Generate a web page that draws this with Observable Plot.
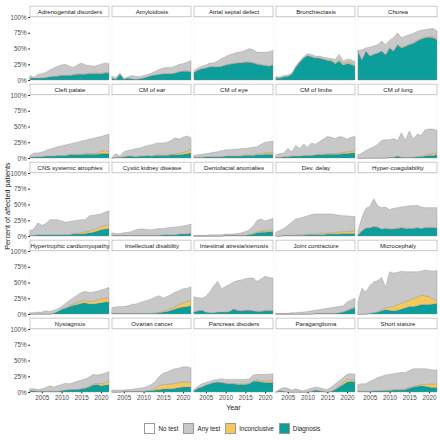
<!DOCTYPE html>
<html>
<head>
<meta charset="utf-8">
<script src="https://cdn.jsdelivr.net/npm/d3@7"></script>
<script src="https://cdn.jsdelivr.net/npm/@observablehq/plot@0.6"></script>
<style>
  body { margin: 0; background: #fff; font-family: "Liberation Sans", Arial, sans-serif; }
  #legend { display: flex; justify-content: center; align-items: center; padding-left: 30px; margin-top: 9px; font-size: 6.3px; color: #1a1a1a; }
  #legend .item { display: flex; align-items: center; margin-right: 5px; }
  #legend .sw { width: 11px; height: 11px; border: 0.6px solid #9a9a9a; box-sizing: border-box; margin-right: 3px; }
</style>
</head>
<body>
<div id="chart"></div>
<div id="legend"></div>
<script>
const years = [2002,2003,2004,2005,2006,2007,2008,2009,2010,2011,2012,2013,2014,2015,2016,2017,2018,2019,2020,2021,2022];

const panels = [
  "Adrenogenital disorders","Amyloidosis","Atrial septal defect","Bronchiectasis","Chorea",
  "Cleft palate","CM of ear","CM of eye","CM of limbs","CM of lung",
  "CNS systemic atrophies","Cystic kidney disease","Dentofacial anomalies","Dev. delay","Hyper-coagulability",
  "Hypertrophic cardiomyopathy","Intellectual disability","Intestinal atresia/stenosis","Joint contracture","Microcephaly",
  "Nystagmus","Ovarian cancer","Pancreas disoders","Paraganglioma","Short stature"
];

const layers = ["No test","Any test","Inconclusive","Diagnosis"];
const layerColors = ["#ffffff","#c8c8c8","#f5c85c","#0b9e9b"];

// percent of patients with any test (top of the grey area)
const tested = [
  [7,4,9,10,12,16,19,22,24,25,22,20,24,27,24,23,22,23,25,27,26],
  [6,4,11,2,5,7,6,5,7,9,11,14,17,19,20,20,22,25,26,28,31],
  [15,19,22,24,27,27,30,34,37,40,42,44,45,47,50,48,44,44,44,45,47],
  [5,5,7,8,11,22,30,37,42,40,38,38,36,35,34,33,41,30,33,32,29],
  [47,48,51,52,54,56,62,56,63,67,75,67,70,72,74,77,79,80,81,82,78],
  [4,8,8,9,12,14,16,18,19,21,22,24,25,27,28,30,31,33,34,36,38],
  [1,7,3,10,12,13,15,16,18,20,21,23,24,24,25,28,32,30,33,35,32],
  [4,5,6,7,8,9,10,12,13,13,14,14,15,15,16,17,18,22,25,26,27],
  [5,7,8,15,10,20,15,22,17,24,22,26,30,34,33,31,34,33,30,33,34],
  [5,8,12,15,18,22,28,29,29,31,28,40,28,43,30,38,36,45,46,46,44],
  [9,11,21,17,20,26,26,26,24,22,23,24,25,26,26,32,33,34,35,38,40],
  [5,4,4,5,6,7,10,11,11,10,10,11,12,12,13,14,14,15,16,17,19],
  [1,1,1,1,2,2,2,2,3,3,3,4,5,7,10,16,25,27,24,26,28],
  [6,9,12,17,22,27,28,30,32,34,35,35,35,35,35,34,33,32,32,31,31],
  [8,30,44,47,59,48,45,46,42,44,45,46,47,48,48,49,46,45,45,45,45],
  [2,2,3,3,5,4,6,8,12,17,22,26,30,34,36,34,35,36,38,40,42],
  [10,11,12,12,13,15,16,18,20,22,24,27,29,25,28,31,35,37,40,41,43],
  [27,26,25,28,35,45,52,40,44,47,51,53,54,56,57,57,52,56,60,58,57],
  [1,1,1,1,2,2,3,3,4,5,6,7,8,9,10,11,12,13,19,22,25],
  [20,41,35,45,51,53,58,42,67,65,66,68,67,67,67,67,68,70,69,68,69],
  [5,5,4,5,7,10,8,10,12,14,13,15,17,19,21,24,28,27,28,30,32],
  [3,3,3,3,4,4,5,6,7,9,12,17,25,30,32,35,37,38,40,40,38],
  [4,9,13,15,17,19,20,21,20,20,20,20,20,20,21,27,28,28,28,28,29],
  [0,5,7,6,3,5,3,2,4,6,8,7,5,4,8,13,18,23,28,29,28],
  [12,13,13,17,20,23,25,27,28,29,30,31,31,34,37,37,37,37,36,35,35]
];

// percent of patients with a diagnosis
const diagnosis = [
  [3,3,3,3,4,5,6,6,7,7,7,8,9,9,9,10,10,10,10,11,11],
  [3,1,9,1,3,2,1,2,3,5,7,8,9,10,10,10,11,13,14,14,13],
  [12,16,18,19,21,21,21,22,24,25,26,27,27,28,28,27,25,24,23,22,24],
  [3,3,5,6,9,20,28,35,39,37,35,35,33,31,30,26,30,24,26,25,22],
  [45,32,46,38,41,43,46,40,51,46,56,51,53,56,58,62,65,67,68,67,64],
  [1,2,2,2,3,3,3,4,4,4,5,5,5,5,6,6,6,6,7,7,7],
  [0,1,1,2,3,3,2,3,3,4,3,4,4,4,4,5,5,5,6,7,8],
  [1,1,1,2,2,2,2,2,3,3,3,3,3,4,4,4,5,5,6,6,6],
  [1,1,2,2,3,3,3,4,4,4,5,5,5,6,6,6,6,7,7,8,8],
  [0,0,0,0,0,0,0,0,1,1,3,1,1,1,1,2,2,3,4,4,5],
  [1,1,2,2,2,2,2,2,2,2,2,3,3,3,4,5,6,8,10,11,12],
  [1,1,1,1,1,1,1,1,1,1,1,1,1,2,2,2,2,3,3,3,4],
  [0,0,0,0,0,0,0,0,1,1,1,1,1,1,2,3,5,6,6,7,7],
  [0,0,1,1,1,1,1,1,2,2,2,2,2,3,3,3,3,4,4,4,4],
  [2,8,13,13,15,14,11,12,11,11,12,13,12,12,12,13,12,13,13,13,13],
  [0,0,0,0,0,0,1,4,7,9,12,14,15,17,18,16,16,17,18,19,19],
  [1,1,1,1,1,1,1,1,1,1,1,1,2,3,4,6,8,10,11,12,13],
  [3,5,6,3,2,2,3,3,3,4,8,6,5,6,6,5,4,4,5,5,5],
  [0,0,0,0,0,0,0,0,0,0,1,1,1,1,1,1,2,3,5,8,10],
  [0,0,0,1,2,3,5,7,6,5,6,8,10,12,12,13,15,15,15,16,17],
  [2,2,1,1,1,1,1,1,2,3,4,4,4,5,6,8,11,12,10,11,12],
  [0,0,0,1,1,1,1,1,1,2,2,3,4,5,5,5,6,7,8,8,8],
  [2,6,8,11,13,15,16,15,14,13,13,12,12,12,13,17,17,16,15,15,15],
  [0,2,1,0,0,0,0,0,0,1,3,2,1,0,1,4,8,12,16,17,16],
  [1,1,1,1,2,2,2,2,2,3,3,3,4,6,8,9,10,9,8,7,7]
];

// percent of patients with an inconclusive result
const inconclusive = [
  [0,0,0,0,0,0,0,0.5,0.5,0.5,0.5,1,1,1,1,1,1,1,1,1,1],
  [0,0,0,0,0,0,0,0,0,0,0,0,0,0,0,0,0,0,0.5,0.5,0.5],
  [0,0,0,0,0,0,0,0,0,0.5,0.5,0.5,0.5,0.5,0.5,0.5,0.5,0.5,0.5,0.5,0.5],
  [0,0,0,0,0,0,0,0,0,0,0,0,0,1,1,1,2,2,2,2,1],
  [0,0,0,0,0,0,0,0,0,0,0,1,1,1,1,1,1,1,1,2,2],
  [0,0,0,0,0,0,0,0,0,0,0.5,0.5,1,1,1,1,1,2,4,5,3],
  [0,0,0,0,0,0,0,0,0,0,0,0.5,1,1,1,1,2,2,3,4,6],
  [0,0,0,0,0,0,0,0,0,0,0,0,0.5,1,1,1,1,2,2,3,3],
  [0,0,0,0,0,0,0,0,0,0,0,1,1,1,1,1,2,2,3,3,4],
  [0,0,0,0,0,0,0,0,0,0,0,0,0,0,0,0,1,1,2,3,3],
  [0,0,0,0,0,0,0,0,0,0,0,1,1,2,3,3,4,4,5,6,6],
  [0,0,0,0,0,0,0,0,0,0,0,0,0,0,0,0,0,0,0.5,0.5,1],
  [0,0,0,0,0,0,0,0,0,0,0,0,0,0,0.5,1,1,2,2,3,3],
  [0,0,0,0,0,0,1,1,1,1,1,2,2,2,2,3,3,3,3,4,4],
  [0,0,0,0,0,0,0,0.5,0.5,0.5,0.5,0.5,0.5,0.5,0.5,0.5,0.5,0.5,1,1,1],
  [0,0,0,0,0,0,0,0,1,1,2,2,3,4,4,4,4,5,6,6,7],
  [0,0,0,0,0,0,0,0,0,0,0,1,1,1,2,3,4,5,7,8,8],
  [0,0,0,0,0,0,0,0,0,0,0,0,0,0,0,0,0.5,0.5,1,1,1],
  [0,0,0,0,0,0,0,0,0,0,0,0,0,0,0,0,0,0.5,1,1,1],
  [0,0,0,0,0,1,2,3,5,7,9,9,10,10,13,14,15,14,13,8,3],
  [0,0,0,0,0,0,0,0,0,0,0,0,0,0,1,1,2,2,3,4,5],
  [0,0,0,0,0,0,0,0,0,0,1,3,6,7,7,8,8,8,8,8,8],
  [0,0,0,0,0,0,0,0,0,0,1,1,1,1,1,1,2,2,2,3,3],
  [0,0,0,0,0,0,0,0,0,0,0,0,0,0,0,1,2,3,4,3,2],
  [0,0,0,0,0,0,0,1,1,1,1,1,1,1,1,2,2,3,5,6,6]
];

// Build the long table for stacking
const rows = [];
const panelRows = panels.map((name, i) => ({name, col: i % 5, row: Math.floor(i / 5)}));
panelRows.forEach((p, i) => {
  years.forEach((year, j) => {
    const d = diagnosis[i][j], inc = inconclusive[i][j], t = tested[i][j];
    rows.push({col: p.col, row: p.row, year, layer: "Diagnosis", value: d});
    rows.push({col: p.col, row: p.row, year, layer: "Inconclusive", value: inc});
    rows.push({col: p.col, row: p.row, year, layer: "Any test", value: Math.max(0, t - d - inc)});
  });
});

const chart = Plot.plot({
  width: 440,
  height: 414,
  marginLeft: 30,
  marginRight: 3,
  marginTop: 4,
  marginBottom: 20,
  style: {fontFamily: "Liberation Sans, Arial, sans-serif", fontSize: "6.3px", color: "#4d4d4d", background: "white"},
  fx: {axis: null, domain: [0,1,2,3,4], padding: 0.04},
  fy: {axis: null, domain: [0,1,2,3,4], padding: 0.045},
  x: {domain: [2002, 2022]},
  y: {domain: [0, 117.5]},
  color: {domain: layers, range: layerColors},
  marks: [
    Plot.rect(panelRows, {fx: "col", fy: "row", x1: 2002, x2: 2022, y1: 0, y2: 100, fill: "none", stroke: "#dedede", strokeWidth: 0.5, strokeDasharray: "1,1.5"}),
    Plot.areaY(rows, {fx: "col", fy: "row", x: "year", y: "value", z: "layer", fill: "layer",
      order: ["Diagnosis","Inconclusive","Any test"], stroke: "#8c8c8c", strokeWidth: 0.35}),
    Plot.rect(panelRows, {fx: "col", fy: "row", x1: 2002, x2: 2022, y1: 100.4, y2: 117.3, fill: "white", stroke: "#a8a8a8", strokeWidth: 0.6}),
    Plot.text(panelRows, {fx: "col", fy: "row", x: 2012, y: 108.8, text: "name", fontSize: 6.1, fill: "#1a1a1a"}),
    Plot.axisY({ticks: [0,25,50,75,100], tickFormat: d => d + "%", tickSize: 2, tickPadding: 2, label: null, stroke: "#333"}),
    Plot.axisX({ticks: [2005,2010,2015,2020], tickFormat: d => String(d), tickSize: 1.5, tickPadding: 1.5, label: null, stroke: "#333"})
  ]
});

document.getElementById("chart").appendChild(chart);

const svg = d3.select(chart);
svg.append("text")
  .attr("transform", "translate(8,206) rotate(-90)")
  .attr("text-anchor", "middle")
  .attr("dominant-baseline", "middle")
  .attr("font-size", 7.2)
  .attr("fill", "#1a1a1a")
  .text("Percent of affected patients");
svg.append("text")
  .attr("x", 233.5)
  .attr("y", 408)
  .attr("text-anchor", "middle")
  .attr("dominant-baseline", "middle")
  .attr("font-size", 7.2)
  .attr("fill", "#1a1a1a")
  .text("Year");

const legend = d3.select("#legend");
layers.forEach((name, i) => {
  const item = legend.append("div").attr("class", "item");
  item.append("div").attr("class", "sw").style("background", layerColors[i]);
  item.append("span").text(name);
});
</script>
</body>
</html>
